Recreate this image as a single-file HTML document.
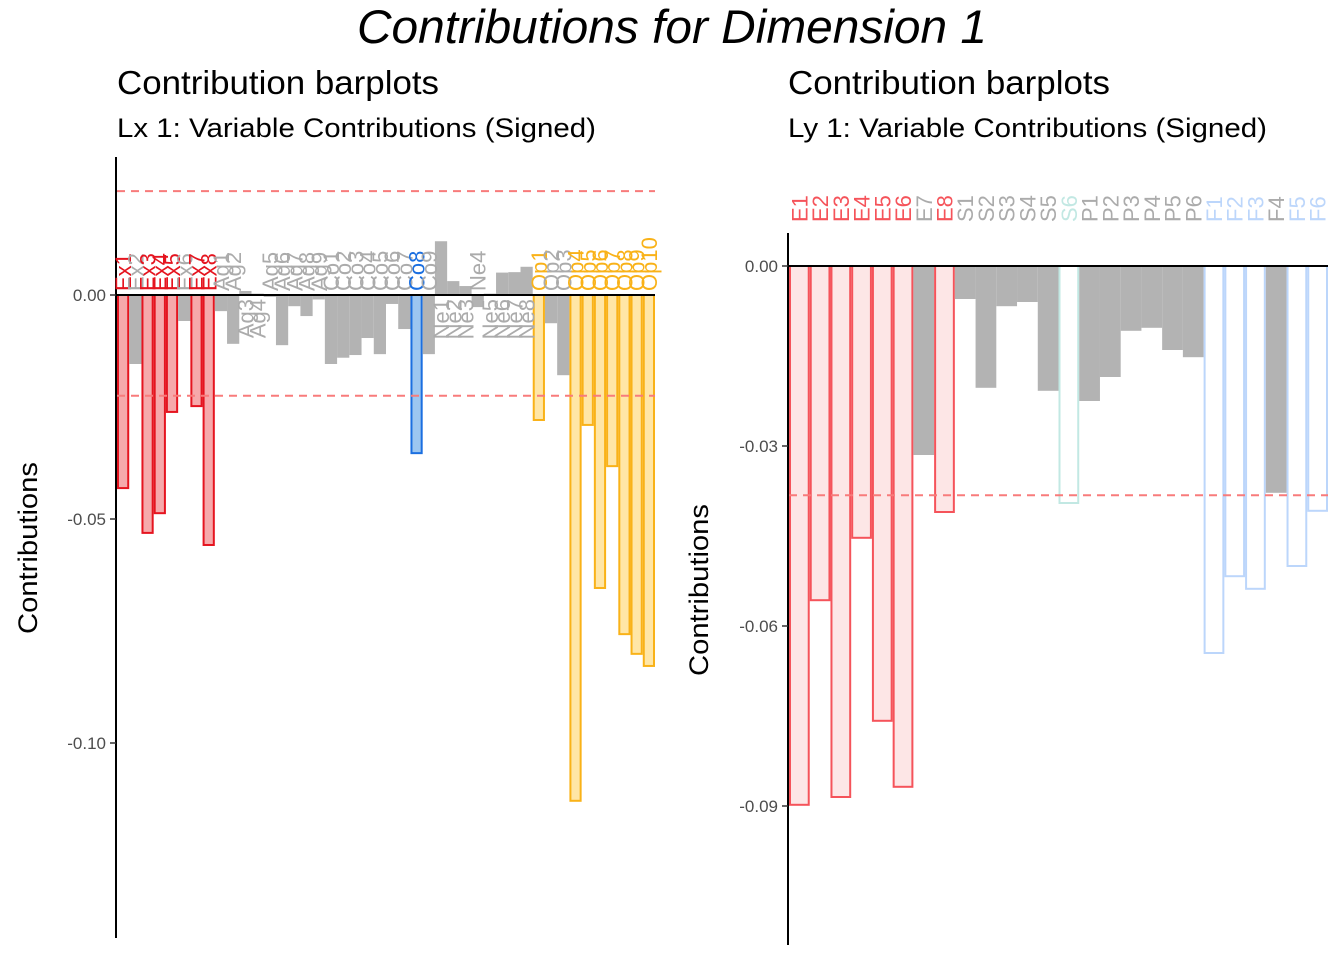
<!DOCTYPE html>
<html><head><meta charset="utf-8"><style>
html,body{margin:0;padding:0;background:#fff;}
svg{display:block;font-family:"Liberation Sans",Arial,sans-serif;}
</style></head><body>
<svg id="chart" width="1344" height="960" viewBox="0 0 1344 960">
<text x="672" y="43" text-anchor="middle" font-size="47" font-style="italic" fill="#000" textLength="630" lengthAdjust="spacingAndGlyphs">Contributions for Dimension 1</text>
<text x="117" y="94" font-size="33" fill="#000" textLength="322" lengthAdjust="spacingAndGlyphs">Contribution barplots</text>
<text x="117" y="137" font-size="27" fill="#000" textLength="479" lengthAdjust="spacingAndGlyphs">Lx 1: Variable Contributions (Signed)</text>
<text x="788" y="94" font-size="33" fill="#000" textLength="322" lengthAdjust="spacingAndGlyphs">Contribution barplots</text>
<text x="788" y="137" font-size="27" fill="#000" textLength="479" lengthAdjust="spacingAndGlyphs">Ly 1: Variable Contributions (Signed)</text>
<text transform="translate(37,548) rotate(-90)" text-anchor="middle" font-size="27" fill="#000" textLength="172" lengthAdjust="spacingAndGlyphs">Contributions</text>
<text transform="translate(708,590) rotate(-90)" text-anchor="middle" font-size="27" fill="#000" textLength="172" lengthAdjust="spacingAndGlyphs">Contributions</text>
<g id="left"></g>
<g id="right"></g>
</svg>
<script>
const leftCats = ["Ex1","Ex2","Ex3","Ex4","Ex5","Ex6","Ex7","Ex8","Ag1","Ag2","Ag3","Ag4","Ag5","Ag6","Ag7","Ag8","Ag9","Co1","Co2","Co3","Co4","Co5","Co6","Co7","Co8","Co9","Ne1","Ne2","Ne3","Ne4","Ne5","Ne6","Ne7","Ne8","Op1","Op2","Op3","Op4","Op5","Op6","Op7","Op8","Op9","Op10"];
const leftValues = [-0.0431,-0.0154,-0.0531,-0.0487,-0.0261,-0.0058,-0.0248,-0.0558,-0.0036,-0.0109,0.0009,0.0003,-0.0004,-0.0112,-0.0025,-0.0047,-0.0010,-0.0154,-0.0140,-0.0134,-0.0096,-0.0132,-0.0020,-0.0076,-0.0353,-0.0132,0.0120,0.0031,0.0020,-0.0027,0.0003,0.0050,0.0051,0.0063,-0.0279,-0.0063,-0.0179,-0.1129,-0.0290,-0.0654,-0.0382,-0.0757,-0.0801,-0.0828];
const leftGroups = ["ex","gray","ex","ex","ex","gray","ex","ex","gray","gray","gray","gray","gray","gray","gray","gray","gray","gray","gray","gray","gray","gray","gray","gray","co","gray","gray","gray","gray","gray","gray","gray","gray","gray","op","gray","gray","op","op","op","op","op","op","op"];
const leftTicks = [0, -0.05, -0.10];
const leftTickLabels = ["0.00","-0.05","-0.10"];
const leftThresholds = [0.0232, -0.0225];

const rightCats = ["E1","E2","E3","E4","E5","E6","E7","E8","S1","S2","S3","S4","S5","S6","P1","P2","P3","P4","P5","P6","F1","F2","F3","F4","F5","F6"];
const rightValues = [-0.0898,-0.0557,-0.0885,-0.0453,-0.0758,-0.0868,-0.0315,-0.0410,-0.0055,-0.0203,-0.0067,-0.0060,-0.0208,-0.0395,-0.0225,-0.0185,-0.0108,-0.0103,-0.0140,-0.0152,-0.0645,-0.0517,-0.0538,-0.0378,-0.0500,-0.0408];
const rightGroups = ["e","e","e","e","e","e","gray","e","gray","gray","gray","gray","gray","s","gray","gray","gray","gray","gray","gray","f","f","f","gray","f","f"];
const rightTicks = [0,-0.03,-0.06,-0.09];
const rightTickLabels = ["0.00","-0.03","-0.06","-0.09"];
const rightThresholds = [-0.0382];

const NS="http://www.w3.org/2000/svg";
function mk(tag, attrs, parent){const e=document.createElementNS(NS,tag);for(const k in attrs)e.setAttribute(k,attrs[k]);parent.appendChild(e);return e;}
const styles={
 ex:{fill:"#f6a9ab",stroke:"#e5141f",label:"#e5141f"},
 co:{fill:"#9cc6f0",stroke:"#1b6fe0",label:"#1b6fe0"},
 op:{fill:"#ffe6a6",stroke:"#f9b218",label:"#f9b218"},
 gray:{fill:"#b3b3b3",stroke:"none",label:"#ababab"},
 e:{fill:"#fde6e6",stroke:"#f5535a",label:"#f5535a"},
 s:{fill:"#ffffff",stroke:"#c2e8e3",label:"#c2e8e3"},
 f:{fill:"#ffffff",stroke:"#bcd6fb",label:"#bcd6fb"}
};
function panel(g, cats, vals, groups, ticks, tlabels, thr, cfg){
  const y=v=>cfg.y0 - v*cfg.k;
  const bw=(cfg.x1-cfg.x0)/cats.length;
  const x=i=>cfg.x0+i*bw;
  cats.forEach((c,i)=>{
    const st=styles[groups[i]];const v=vals[i];
    const top=Math.min(y(0),y(v)), h=Math.abs(y(v)-y(0));
    const r=mk("rect",{x:x(i)+(st.stroke==="none"?0:1),y:top,width:bw-(st.stroke==="none"?0:2),height:h,fill:st.fill,stroke:st.stroke,"stroke-width":2},g);
    
    
  });
  thr.forEach((t,j)=>{
    const l=mk("line",{x1:cfg.x0,x2:cfg.x1,y1:y(t),y2:y(t),stroke:"#f87b7b","stroke-width":2,"stroke-dasharray":"8,6"},g);
    
    
  });
  const ax=mk("line",{x1:cfg.x0-1,x2:cfg.x0-1,y1:cfg.yt,y2:cfg.yb,stroke:"#000","stroke-width":2},g);
  
  
  const zl=mk("line",{x1:cfg.x0,x2:cfg.x1,y1:y(0),y2:y(0),stroke:"#000","stroke-width":2},g);
  
  
  ticks.forEach((t,j)=>{
    const tm=mk("line",{x1:cfg.x0-7,x2:cfg.x0-1,y1:y(t),y2:y(t),stroke:"#333","stroke-width":1.5},g);
    
    
    const tx=mk("text",{x:cfg.x0-11,y:y(t)+6,"text-anchor":"end","font-size":17,fill:"#4d4d4d"},g);
    tx.textContent=tlabels[j];
    
    
  });
  cats.forEach((c,i)=>{
    const st=styles[groups[i]];const v=vals[i];
    const cx=x(i)+bw/2+8;
    let ly, anchor;
    if(cfg.labelY!==undefined){ly=cfg.labelY;anchor="start";}
    else if(v<0){ly=y(0)-4;anchor="start";}
    else {ly=y(0)+4;anchor="end";}
    const t=mk("text",{transform:`translate(${cx},${ly}) rotate(-90)`,"text-anchor":anchor,"font-size":cfg.fs,fill:st.label},g);
    t.textContent=c;
    
    
  });
}
panel(document.getElementById('left'),leftCats,leftValues,leftGroups,leftTicks,leftTickLabels,leftThresholds,
 {x0:117,x1:655,y0:295,k:4480,yt:157,yb:938,fs:22});
panel(document.getElementById('right'),rightCats,rightValues,rightGroups,rightTicks,rightTickLabels,rightThresholds,
 {x0:789,x1:1328,y0:266,k:6000,yt:233,yb:945,fs:22,labelY:222});
</script>
</body></html>
